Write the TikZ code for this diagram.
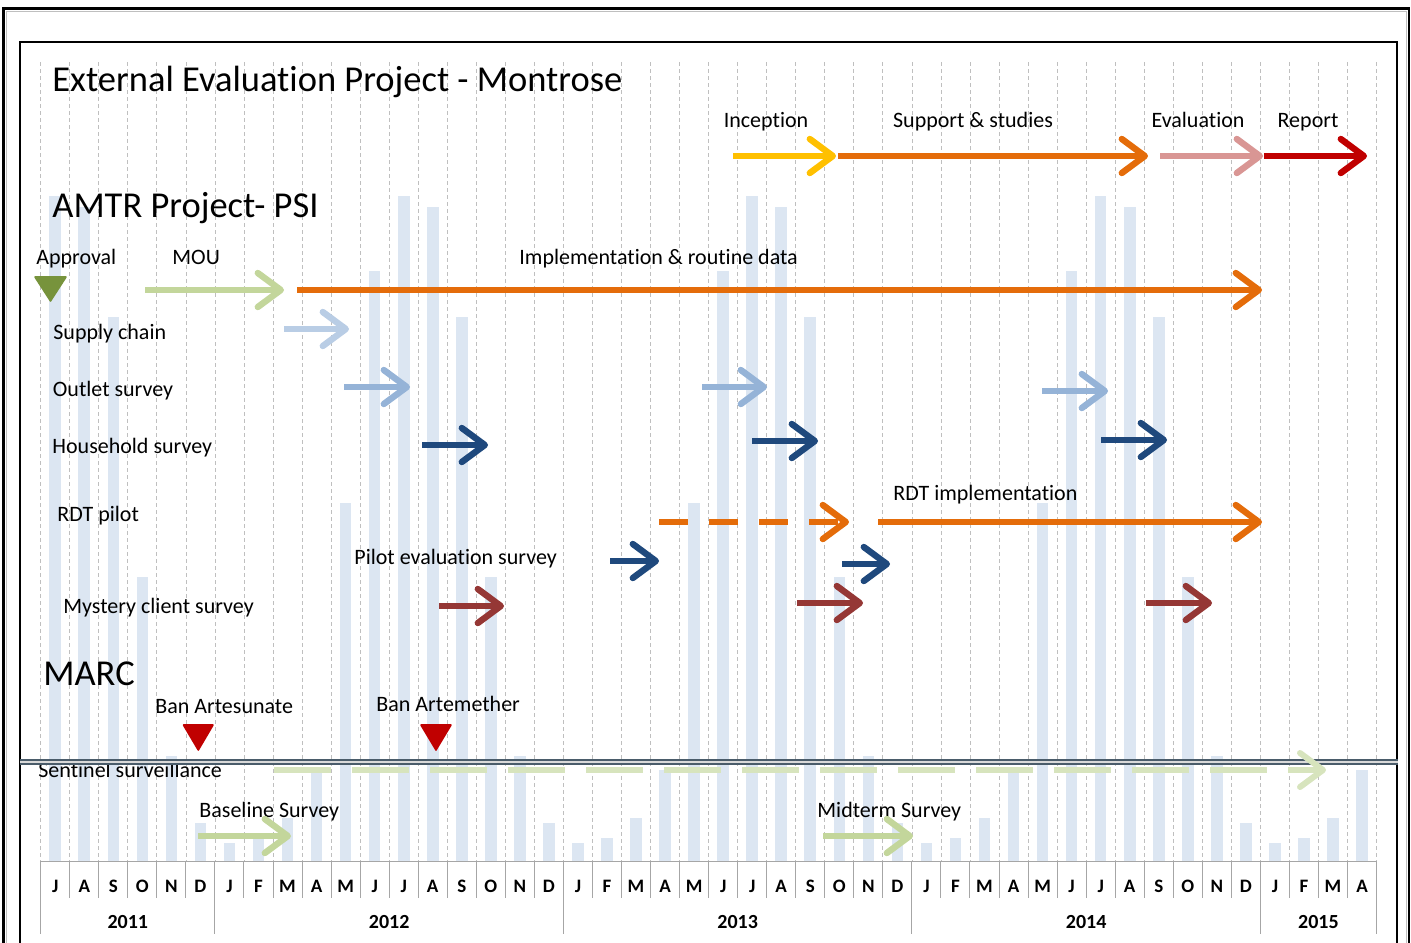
\documentclass[tikz,border=0pt]{standalone}
\usepackage{fontspec}
\setmainfont{Carlito}[Ligatures=NoCommon]
\usetikzlibrary{arrows.meta}

\definecolor{incyellow}{HTML}{FFC000}
\definecolor{implorange}{HTML}{E46C0A}
\definecolor{evalpink}{HTML}{D99694}
\definecolor{reportred}{HTML}{C00000}
\definecolor{approvalolive}{HTML}{77933C}
\definecolor{mougreen}{HTML}{C3D69B}
\definecolor{sentinelgreen}{HTML}{D7E4BD}
\definecolor{supplyblue}{HTML}{B9CDE5}
\definecolor{outletblue}{HTML}{95B3D7}
\definecolor{householdblue}{HTML}{1F497D}
\definecolor{mysteryred}{HTML}{953735}
\definecolor{barblue}{HTML}{DCE6F2}
\definecolor{dividerslate}{HTML}{4A5C6A}
\definecolor{gridgray}{HTML}{BFBFBF}
\definecolor{axisgray}{HTML}{A6A6A6}

\begin{document}
\begin{tikzpicture}[
  x=0.5pt, y=-0.5pt,
  heading/.style={font=\fontsize{18.25}{21}\selectfont, anchor=base west, inner sep=0pt},
  tasklabel/.style={font=\fontsize{11}{13}\selectfont, anchor=base west, inner sep=0pt},
  phaselabel/.style={font=\fontsize{11}{13}\selectfont, anchor=base, inner sep=0pt},
  monthlabel/.style={font=\bfseries\fontsize{9.5}{11}\selectfont, anchor=base, inner sep=0pt},
  yearlabel/.style={font=\bfseries\fontsize{10}{12}\selectfont, anchor=base, inner sep=0pt},
  gantt/.style={draw=#1, line width=3.2pt, -{Straight Barb[length=11.5pt, width=17pt, round]}},
  milestone/.style={fill=#1, draw=#1, line width=0.8pt, line join=round},
  seasonbar/.style={fill=barblue},
  monthgrid/.style={draw=gridgray, dash pattern=on 2pt off 1.5pt, line width=0.4pt},
  axisline/.style={draw=axisgray, line width=0.5pt}
]
\useasboundingbox (0,0) rectangle (1411,942);
\draw[line width=1.2pt] (3.5,960) -- (3.5,8.5) -- (1409,8.5) -- (1409,960);
\draw[gridgray, line width=0.4pt] (6,960) -- (6,11) -- (1406.5,11) -- (1406.5,960);
\draw[line width=0.6pt] (20,960) -- (20,42) -- (1397,42) -- (1397,960);

\def\bartops{{196,207,317,577,756,823,843,838,818,770,503,271}}
\foreach \i in {0,...,45}{
  \pgfmathsetmacro\xc{40.7+29.04*(\i+0.5)}
  \pgfmathsetmacro\yt{\bartops[mod(\i,12)]}
  \fill[seasonbar] (\xc-5.8,\yt) rectangle (\xc+5.8,861);
}
\foreach \i in {0,...,46}{
  \pgfmathsetmacro\xg{40.7+29.04*\i}
  \draw[monthgrid] (\xg,62) -- (\xg,861);
  \draw[axisline] (\xg,861) -- (\xg,898);
}
\draw[axisline] (40.7,861) -- (1376.7,861);
\foreach \i in {0,6,18,30,42,46}
  \draw[axisline] ({40.7+29.04*\i},898) -- ({40.7+29.04*\i},934);
\foreach \m [count=\i from 0] in {J,A,S,O,N,D,J,F,M,A,M,J,J,A,S,O,N,D,J,F,M,A,M,J,J,A,S,O,N,D,J,F,M,A,M,J,J,A,S,O,N,D,J,F,M,A}
  \node[monthlabel] (m\i) at ({40.7+29.04*(\i+0.5)},892) {\m};
\foreach \yr/\c in {2011/3,2012/12,2013/24,2014/36,2015/44}
  \node[yearlabel] (y\yr) at ({40.7+29.04*\c},928) {\yr};

\node[heading] (title) at (52,91) {External Evaluation Project - Montrose};
\node[heading] (amtr) at (52,217) {AMTR Project- PSI};
\node[heading] (marc) at (43,685) {MARC};

\node[phaselabel] (inception) at (766,127) {Inception};
\node[phaselabel] (support) at (973,127) {Support \& studies};
\node[phaselabel] (evaluation) at (1198,127) {Evaluation};
\node[phaselabel] (report) at (1308,127) {Report};
\draw[gantt=incyellow] (733,156) -- (836,156);
\draw[gantt=implorange] (838,156) -- (1148,156);
\draw[gantt=evalpink] (1160,156) -- (1263,156);
\draw[gantt=reportred] (1264,156) -- (1367,156);

\node[tasklabel] (approval) at (36,264) {Approval};
\node[tasklabel] (mou) at (172,264) {MOU};
\node[tasklabel] (implementation) at (519,264) {Implementation \& routine data};
\fill[milestone=approvalolive] (35,277) -- (66,277) -- (50.5,301) -- cycle;
\draw[gantt=mougreen] (145,290) -- (284,290);
\draw[gantt=implorange] (297,290) -- (1262,290);

\node[tasklabel] (supply) at (53,339) {Supply chain};
\draw[gantt=supplyblue] (284,329) -- (349,329);

\node[tasklabel] (outlet) at (52.5,396) {Outlet survey};
\draw[gantt=outletblue] (344,387) -- (410,387);
\draw[gantt=outletblue] (702,387) -- (767,387);
\draw[gantt=outletblue] (1042,391) -- (1108,391);

\node[tasklabel] (household) at (52,453) {Household survey};
\draw[gantt=householdblue] (422,445) -- (488,445);
\draw[gantt=householdblue] (752,441) -- (818,441);
\draw[gantt=householdblue] (1101,440) -- (1167,440);

\node[tasklabel] (rdtpilot) at (57,521) {RDT pilot};
\node[tasklabel] (rdtimpl) at (893,500) {RDT implementation};
\draw[gantt=implorange, dash pattern=on 14.3pt off 10.7pt] (659,522) -- (849,522);
\draw[gantt=implorange] (878,522) -- (1262,522);

\node[tasklabel] (piloteval) at (354,564) {Pilot evaluation survey};
\draw[gantt=householdblue] (610,561) -- (659,561);
\draw[gantt=householdblue] (842,564) -- (890,564);

\node[tasklabel] (mystery) at (63,613) {Mystery client survey};
\draw[gantt=mysteryred] (439,606) -- (504,606);
\draw[gantt=mysteryred] (797,603) -- (863,603);
\draw[gantt=mysteryred] (1146,603) -- (1212,603);

\node[tasklabel] (banartesunate) at (155,713) {Ban Artesunate};
\node[tasklabel] (banartemether) at (376,711) {Ban Artemether};
\fill[milestone=reportred] (183.5,725) -- (213,725) -- (198.3,750) -- cycle;
\fill[milestone=reportred] (421,725) -- (451,725) -- (436,750) -- cycle;

\node[tasklabel] (sentinel) at (38,777) {Sentinel surveillance};
\draw[dividerslate, line width=1pt, double=gridgray!60, double distance=1pt] (20,761.5) -- (1398,761.5);
\draw[gantt=sentinelgreen, line width=3pt, dash pattern=on 28.5pt off 10.5pt] (274,770) -- (1326,770);

\node[tasklabel] (baseline) at (199,817) {Baseline Survey};
\node[tasklabel] (midterm) at (817,817) {Midterm Survey};
\draw[gantt=mougreen] (198,836) -- (291,836);
\draw[gantt=mougreen] (823,836) -- (913,836);
\end{tikzpicture}
\end{document}
